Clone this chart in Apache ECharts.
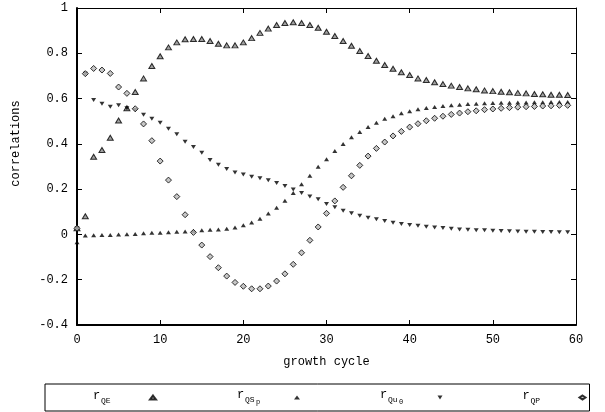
<!DOCTYPE html>
<html>
<head>
<meta charset="utf-8">
<script src="https://cdn.jsdelivr.net/npm/echarts@6/dist/echarts.min.js"></script>
<style>html,body{margin:0;padding:0;background:#fff}#c{width:605px;height:412px}</style>
</head>
<body>
<div id="c"></div>
<script>
const cycles = [0,1,2,3,4,5,6,7,8,9,10,11,12,13,14,15,16,17,18,19,20,21,22,23,24,25,26,27,28,29,30,31,32,33,34,35,36,37,38,39,40,41,42,43,44,45,46,47,48,49,50,51,52,53,54,55,56,57,58,59];
const rQE = [0.027,0.08,0.343,0.373,0.427,0.503,0.557,0.629,0.689,0.744,0.787,0.826,0.848,0.862,0.863,0.863,0.854,0.842,0.835,0.835,0.848,0.867,0.890,0.909,0.925,0.934,0.937,0.934,0.925,0.913,0.895,0.876,0.854,0.833,0.810,0.788,0.767,0.748,0.732,0.716,0.704,0.689,0.682,0.672,0.664,0.657,0.651,0.645,0.641,0.636,0.633,0.630,0.628,0.625,0.623,0.620,0.619,0.617,0.617,0.616];
const rQSp = [-0.035,-0.005,-0.004,-0.003,-0.002,0.0,0.001,0.002,0.005,0.007,0.007,0.010,0.012,0.013,0.015,0.019,0.021,0.022,0.025,0.031,0.040,0.053,0.069,0.092,0.118,0.149,0.183,0.222,0.259,0.299,0.332,0.368,0.399,0.429,0.452,0.474,0.493,0.511,0.522,0.535,0.544,0.553,0.558,0.563,0.567,0.570,0.573,0.576,0.577,0.579,0.580,0.581,0.582,0.583,0.583,0.584,0.584,0.585,0.585,0.585];
const rQu0 = [0.027,0.71,0.594,0.577,0.564,0.571,0.557,0.550,0.528,0.511,0.493,0.467,0.442,0.409,0.386,0.361,0.329,0.308,0.289,0.274,0.265,0.255,0.248,0.239,0.227,0.214,0.198,0.183,0.167,0.155,0.134,0.120,0.105,0.093,0.083,0.074,0.067,0.059,0.052,0.046,0.042,0.038,0.034,0.031,0.028,0.025,0.022,0.021,0.019,0.018,0.016,0.015,0.014,0.013,0.012,0.012,0.011,0.011,0.010,0.010];
const rQP = [0.027,0.710,0.733,0.726,0.711,0.651,0.623,0.555,0.488,0.414,0.324,0.240,0.167,0.087,0.009,-0.047,-0.098,-0.147,-0.184,-0.212,-0.229,-0.240,-0.240,-0.228,-0.206,-0.174,-0.132,-0.081,-0.026,0.033,0.093,0.148,0.208,0.259,0.305,0.346,0.380,0.408,0.435,0.455,0.474,0.489,0.502,0.513,0.522,0.530,0.536,0.542,0.546,0.551,0.554,0.557,0.560,0.562,0.564,0.565,0.567,0.568,0.570,0.570];
const xTickLabels = ['0','10','20','30','40','50','60'];
const yTickLabels = ['-0.4','-0.2','0','0.2','0.4','0.6','0.8','1'];
const seriesNames = ['rQE','rQSp','rQu0','rQP'];
const legendLabels = {
  rQE: '{r|r}{s|QE}{sp|}',
  rQSp: '{r2|r}{s2|QS}{ss|p}{sp|}',
  rQu0: '{r2|r}{s2|Qu}{ss|0}{sp|}',
  rQP: '{r|r}{s|QP}{sp|}'
};

const FONT = '"Liberation Mono", "DejaVu Sans Mono", monospace';
function pairs(arr){ return cycles.map((c,i)=>[c, arr[i]]); }

const chart = echarts.init(document.getElementById('c'), null, {renderer:'canvas'});
const axisCommon = {
  type:'value',
  splitLine:{show:false},
  axisLine:{onZero:false, lineStyle:{color:'#000', width:2}},
  axisTick:{inside:true, length:5, lineStyle:{color:'#000', width:1}},
};
chart.setOption({
  animation:false,
  backgroundColor:'#fff',
  grid:{left:77, right:29, top:8, bottom:87, containLabel:false},
  xAxis:[
    Object.assign({}, axisCommon, {
      position:'bottom', min:0, max:60, interval:10,
      name:'growth cycle', nameLocation:'middle', nameGap:31,
      nameTextStyle:{fontFamily:FONT, fontSize:12, color:'#000'},
      axisLabel:{margin:9, fontFamily:FONT, fontSize:12, color:'#000',
        formatter:(v)=>xTickLabels[Math.round(v/10)]}
    }),
    Object.assign({}, axisCommon, {
      position:'top', min:0, max:60, interval:10,
      axisLine:{onZero:false, lineStyle:{color:'#000', width:1}},
      axisLabel:{show:false}
    })
  ],
  yAxis:[
    Object.assign({}, axisCommon, {
      position:'left', min:-0.4, max:1, interval:0.2,
      name:'correlations', nameLocation:'middle', nameGap:55, nameRotate:90,
      nameTextStyle:{fontFamily:FONT, fontSize:12, color:'#000', padding:[0,0,0,46]},
      axisLabel:{margin:9, fontFamily:FONT, fontSize:12, color:'#000',
        formatter:(v)=>yTickLabels[Math.round((v+0.4)/0.2)]}
    }),
    Object.assign({}, axisCommon, {
      position:'right', min:-0.4, max:1, interval:0.2,
      axisLine:{onZero:false, lineStyle:{color:'#000', width:1}},
      axisLabel:{show:false}
    })
  ],
  legend:{
    data:seriesNames,
    left:45, top:384,
    orient:'horizontal',
    align:'right',
    itemWidth:6, itemHeight:4, itemGap:80,
    padding:[5,3,5,48],
    borderColor:'#000', borderWidth:1,
    formatter:(n)=>legendLabels[n],
    textStyle:{
      fontFamily:FONT, color:'#000',
      rich:{
        r:{fontFamily:FONT, fontSize:12, color:'#000', width:8, align:'left', verticalAlign:'bottom', padding:[0,0,3,0]},
        s:{fontFamily:FONT, fontSize:8, color:'#000', width:16, align:'left', verticalAlign:'bottom'},
        r2:{fontFamily:FONT, fontSize:12, color:'#000', width:8, align:'left', verticalAlign:'bottom', padding:[0,0,5,0]},
        s2:{fontFamily:FONT, fontSize:8, color:'#000', width:11, align:'left', verticalAlign:'bottom', padding:[0,0,2,0]},
        ss:{fontFamily:FONT, fontSize:7, color:'#000', width:5, align:'left', verticalAlign:'bottom'},
        sp:{width:28, fontSize:8}
      }
    }
  },
  series:[
    {name:'rQE', type:'scatter', data:pairs(rQE), symbol:'triangle', symbolSize:[6,5],
      itemStyle:{color:'#8a8a8a', borderColor:'#000', borderWidth:1}},
    {name:'rQSp', type:'scatter', data:pairs(rQSp), symbol:'triangle', symbolSize:[5,4],
      itemStyle:{color:'#000'}},
    {name:'rQu0', type:'scatter', data:pairs(rQu0), symbol:'path://M0,0L10,0L5,8Z', symbolSize:[5,4],
      itemStyle:{color:'#000'}},
    {name:'rQP', type:'scatter', data:pairs(rQP), symbol:'diamond', symbolSize:[6,6],
      itemStyle:{color:'#b8b8b8', borderColor:'#000', borderWidth:1}}
  ]
});
</script>
</body>
</html>
